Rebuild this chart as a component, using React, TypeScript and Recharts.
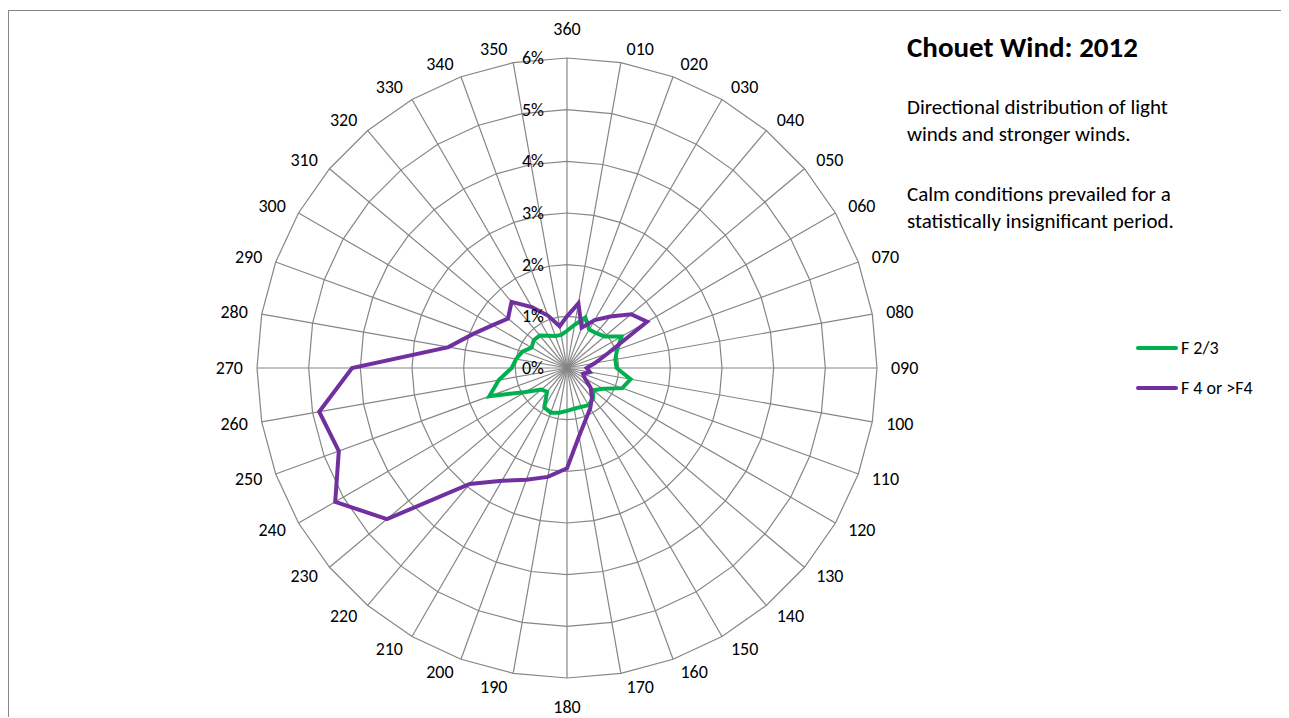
import React from 'react';
import { RadarChart, Radar, PolarGrid, PolarAngleAxis, PolarRadiusAxis } from 'recharts';

const directions = ['360','010','020','030','040','050','060','070','080','090','100','110','120','130','140','150','160','170','180','190','200','210','220','230','240','250','260','270','280','290','300','310','320','330','340','350'];
const lightWinds = [0.72,0.85,1.04,0.86,0.88,0.95,1.22,1.03,0.95,0.96,1.25,1.14,0.8,0.67,0.78,0.83,0.8,0.8,0.83,0.88,0.92,0.88,0.6,0.65,0.93,1.6,1.34,1.07,1.0,0.92,0.79,0.84,0.82,0.72,0.66,0.65];
const strongWinds = [1.0,1.27,0.83,1.07,1.3,1.62,1.79,0.85,0.55,0.38,0.45,0.33,0.4,0.6,0.75,0.9,1.06,1.34,1.94,2.14,2.3,2.52,2.93,4.55,5.18,4.7,4.87,4.16,2.33,1.93,1.66,1.49,1.67,1.36,1.08,0.82];
const radiusTicks = [0,1,2,3,4,5,6];
const seriesNames = ['F 2/3', 'F 4 or >F4'];
const titleText = 'Chouet Wind: 2012';
const bodyLines1 = ['Directional distribution of light', 'winds and stronger winds.'];
const bodyLines2 = ['Calm conditions prevailed for a', 'statistically insignificant period.'];

const data = directions.map((d, i) => ({ dir: d, light: lightWinds[i], strong: strongWinds[i] }));

const FONT = 'Carlito, Calibri, Lato, sans-serif';
const GREEN = '#00B050';
const PURPLE = '#7030A0';
const GRID = '#868686';
const W = 1278;
const H = 706;
const CX = 558;
const CY = 357;
const R = 310;

const AngleTick = (props: any) => {
  const coord = (props.payload.coordinate * Math.PI) / 180;
  const s = Math.cos(coord); // sine of compass bearing
  const c = Math.sin(coord); // cosine of compass bearing
  const px = CX + R * s;
  const py = CY - R * c;
  let x = px;
  let anchor: 'start' | 'end' | 'middle' = 'middle';
  let y = py;
  if (s > 0.01) {
    anchor = 'start';
    x = px + 4 + s * 10;
    y = py - c * 14;
  } else if (s < -0.01) {
    anchor = 'end';
    x = px - 4 + s * 10;
    y = py - c * 14;
  } else {
    y = py - c * 29;
  }
  return (
    <text x={x} y={y} textAnchor={anchor} dominantBaseline="central" fontSize={18} fontFamily={FONT} fill="#000">
      {props.payload.value}
    </text>
  );
};

const RadiusTick = (props: any) => {
  return (
    <text x={props.x - 23} y={props.y} textAnchor="end" dominantBaseline="central" fontSize={18} fontFamily={FONT} fill="#000">
      {`${props.payload.value}%`}
    </text>
  );
};

export default function App() {
  return (
    <div style={{ position: 'relative', marginTop: 2, width: W, height: H, borderTop: `1px solid ${GRID}`, borderLeft: `1px solid ${GRID}`, borderRight: `1px solid ${GRID}`, fontFamily: FONT }}>
      <RadarChart width={W} height={H} data={data} cx={CX} cy={CY} outerRadius={R} margin={{ top: 0, right: 0, bottom: 0, left: 0 }}>
        <PolarGrid gridType="polygon" stroke={GRID} strokeWidth={1.2} />
        <PolarAngleAxis dataKey="dir" tick={AngleTick} tickLine={false} axisLine={false} />
        <PolarRadiusAxis angle={90} domain={[0, 6]} ticks={radiusTicks as any} tickCount={7} type="number" axisLine={false} tickLine={false} tick={RadiusTick} />
        <Radar name={seriesNames[0]} dataKey="light" stroke={GREEN} strokeWidth={4} fill="none" fillOpacity={0} dot={false} isAnimationActive={false} />
        <Radar name={seriesNames[1]} dataKey="strong" stroke={PURPLE} strokeWidth={4} fill="none" fillOpacity={0} dot={false} isAnimationActive={false} />
      </RadarChart>
      <div style={{ position: 'absolute', left: 898, top: 20, color: '#000' }}>
        <div style={{ fontSize: 29, fontWeight: 700, lineHeight: '32px' }}>{titleText}</div>
        <div style={{ fontSize: 21, lineHeight: '27px', marginTop: 31 }}>
          {bodyLines1.map((l) => <div key={l}>{l}</div>)}
        </div>
        <div style={{ fontSize: 21, lineHeight: '27px', marginTop: 33 }}>
          {bodyLines2.map((l) => <div key={l}>{l}</div>)}
        </div>
      </div>
      <div style={{ position: 'absolute', left: 1127, top: 317, fontSize: 18, color: '#000' }}>
        {seriesNames.map((n, i) => (
          <div key={n} style={{ display: 'flex', alignItems: 'center', height: 40 }}>
            <div style={{ width: 42, height: 4, background: i === 0 ? GREEN : PURPLE, borderRadius: 2, marginRight: 3 }} />
            <span>{n}</span>
          </div>
        ))}
      </div>
    </div>
  );
}
